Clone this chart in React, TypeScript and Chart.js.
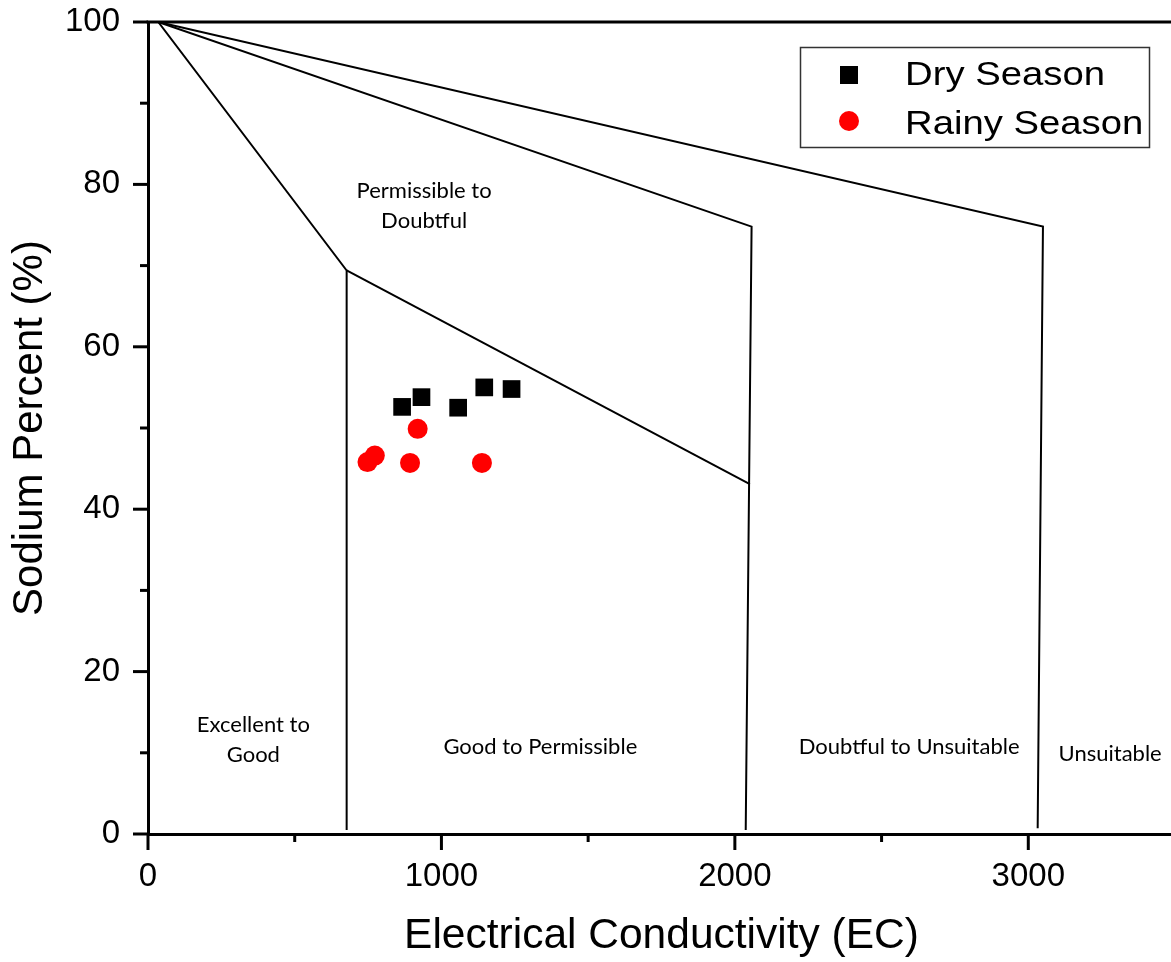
import React, { useEffect, useRef } from "react";
import { Chart, registerables } from "chart.js";

Chart.register(...registerables);

// Sample data (EC, Na%)
const dryEC = [866, 932, 1057, 1146, 1239];
const dryNa = [52.6, 53.8, 52.5, 55.0, 54.8];
const rainyEC = [748, 773, 893, 919, 1138];
const rainyNa = [45.8, 46.6, 45.7, 49.9, 45.7];

// Wilcox diagram boundary lines
const boundary1EC = [35, 677, 677];
const boundary1Na = [100, 69.4, 0.5];
const boundary2EC = [677, 2051];
const boundary2Na = [69.4, 43.1];
const boundary3EC = [35, 2057, 2037];
const boundary3Na = [100, 74.8, 0.5];
const boundary4EC = [35, 3050, 3032];
const boundary4Na = [100, 74.8, 0.7];

// Axis ticks
const xLabeledTicks = [0, 1000, 2000, 3000];
const yLabeledTicks = [0, 20, 40, 60, 80, 100];

// Zone labels
const zoneNames = [
  ["Permissible to", "Doubtful"],
  ["Excellent to", "Good"],
  ["Good to Permissible"],
  ["Doubtful to Unsuitable"],
  ["Unsuitable"],
];
const zoneEC = [941, 359, 1337, 2594, 3279];
const zoneNa = [77.3, 11.6, 10.76, 10.7, 9.86];

const legendNames = ["Dry Season", "Rainy Season"];

const pts = (xs: number[], ys: number[]) => xs.map((x, i) => ({ x, y: ys[i] }));

const lineDs = (xs: number[], ys: number[]) => ({
  type: "scatter" as const,
  data: pts(xs, ys),
  showLine: true,
  borderColor: "#000",
  borderWidth: 2,
  pointRadius: 0,
  fill: false,
  tension: 0,
});

const zeroPad = (s: any) => {
  s.paddingTop = 0;
  s.paddingBottom = 0;
  s.paddingLeft = 0;
  s.paddingRight = 0;
};

const decor = {
  id: "decor",
  beforeDatasetsDraw(chart: any) {
    const { ctx, scales } = chart;
    const x = scales.x;
    const y = scales.y;
    ctx.save();
    ctx.fillStyle = "#000";
    ctx.font = '22px "Lato"';
    ctx.textAlign = "center";
    ctx.textBaseline = "middle";
    zoneNames.forEach((lines, i) => {
      const cx = x.getPixelForValue(zoneEC[i]);
      const cy = y.getPixelForValue(zoneNa[i]);
      lines.forEach((s, j) => {
        ctx.fillText(s, cx, cy + (j - (lines.length - 1) / 2) * 30);
      });
    });
    ctx.restore();
  },
  afterDraw(chart: any) {
    const { ctx, chartArea: a, scales } = chart;
    const x = scales.x;
    const y = scales.y;
    ctx.save();
    ctx.strokeStyle = "#000";
    ctx.lineWidth = 3;
    // top frame
    ctx.beginPath();
    ctx.moveTo(a.left - 1.5, a.top);
    ctx.lineTo(a.right + 3, a.top);
    ctx.stroke();
    // x ticks
    for (const t of x.ticks) {
      const px = x.getPixelForValue(t.value);
      const len = xLabeledTicks.includes(t.value) ? 16 : 8;
      ctx.beginPath();
      ctx.moveTo(px, a.bottom);
      ctx.lineTo(px, a.bottom + len);
      ctx.stroke();
    }
    // y ticks
    for (const t of y.ticks) {
      const py = y.getPixelForValue(t.value);
      const len = yLabeledTicks.includes(t.value) ? 15 : 8;
      ctx.beginPath();
      ctx.moveTo(a.left, py);
      ctx.lineTo(a.left - len, py);
      ctx.stroke();
    }
    // legend
    const bx = 800.5, by = 47.5, bw = 349, bh = 100;
    ctx.lineWidth = 1.5;
    ctx.strokeStyle = "#333";
    ctx.strokeRect(bx, by, bw, bh);
    ctx.fillStyle = "#000";
    ctx.fillRect(849 - 9, 75 - 9, 18, 18);
    ctx.fillStyle = "#ff0000";
    ctx.beginPath();
    ctx.arc(849, 121, 10, 0, Math.PI * 2);
    ctx.fill();
    ctx.fillStyle = "#000";
    ctx.font = '33px "Liberation Sans"';
    ctx.textAlign = "left";
    ctx.textBaseline = "alphabetic";
    const baselines = [85, 134];
    legendNames.forEach((s, i) => {
      ctx.save();
      ctx.translate(905, baselines[i]);
      ctx.scale(1.16, 1);
      ctx.fillText(s, 0, 0);
      ctx.restore();
    });
    ctx.restore();
  },
};

export default function App() {
  const ref = useRef<HTMLCanvasElement | null>(null);

  useEffect(() => {
    if (!ref.current) return;
    Chart.defaults.font.family = '"Liberation Sans", Arial, sans-serif';
    Chart.defaults.color = "#000";
    const chart = new Chart(ref.current, {
      type: "scatter",
      data: {
        datasets: [
          lineDs(boundary1EC, boundary1Na),
          lineDs(boundary2EC, boundary2Na),
          lineDs(boundary3EC, boundary3Na),
          lineDs(boundary4EC, boundary4Na),
          {
            type: "scatter",
            label: legendNames[0],
            data: pts(dryEC, dryNa),
            pointStyle: "rect",
            pointRadius: 12.5,
            backgroundColor: "#000",
            borderWidth: 0,
          },
          {
            type: "scatter",
            label: legendNames[1],
            data: pts(rainyEC, rainyNa),
            pointStyle: "circle",
            pointRadius: 10,
            backgroundColor: "#ff0000",
            borderWidth: 0,
          },
        ] as any,
      },
      options: {
        animation: false,
        responsive: false,
        devicePixelRatio: 1,
        layout: { autoPadding: false, padding: { top: 22, right: 1, left: 0, bottom: 0 } },
        plugins: { legend: { display: false }, tooltip: { enabled: false } },
        scales: {
          x: {
            type: "linear",
            position: "bottom",
            min: 0,
            max: 3500,
            grid: { display: false, drawTicks: false },
            border: { display: true, width: 3, color: "#000" },
            ticks: {
              stepSize: 500,
              autoSkip: false,
              maxRotation: 0,
              padding: 23,
              font: { size: 33 },
              color: "#000",
              callback: (v: any) => (xLabeledTicks.includes(Number(v)) ? String(v) : ""),
            },
            title: {
              display: true,
              text: "Electrical Conductivity (EC)",
              font: { size: 42.5 },
              color: "#000",
              padding: { top: 0, bottom: 0 },
            },
            afterFit: (s: any) => {
              s.height = 128;
              zeroPad(s);
            },
          },
          y: {
            type: "linear",
            min: 0,
            max: 100,
            grid: { display: false, drawTicks: false },
            border: { display: true, width: 3, color: "#000" },
            ticks: {
              stepSize: 10,
              autoSkip: false,
              padding: 28,
              font: { size: 33 },
              color: "#000",
              callback: (v: any) => (yLabeledTicks.includes(Number(v)) ? String(v) : ""),
            },
            title: {
              display: true,
              text: "Sodium Percent (%)",
              font: { size: 42 },
              color: "#000",
              padding: { top: 5, bottom: 0 },
            },
            afterFit: (s: any) => {
              s.width = 148;
              zeroPad(s);
            },
          },
        },
      },
      plugins: [decor],
    });
    return () => chart.destroy();
  }, []);

  return (
    <div
      style={{
        position: "fixed",
        left: 0,
        top: 0,
        width: 1171,
        height: 962,
        overflow: "hidden",
        background: "#fff",
      }}
    >
      <canvas ref={ref} width={1176} height={962} style={{ display: "block" }} />
    </div>
  );
}
